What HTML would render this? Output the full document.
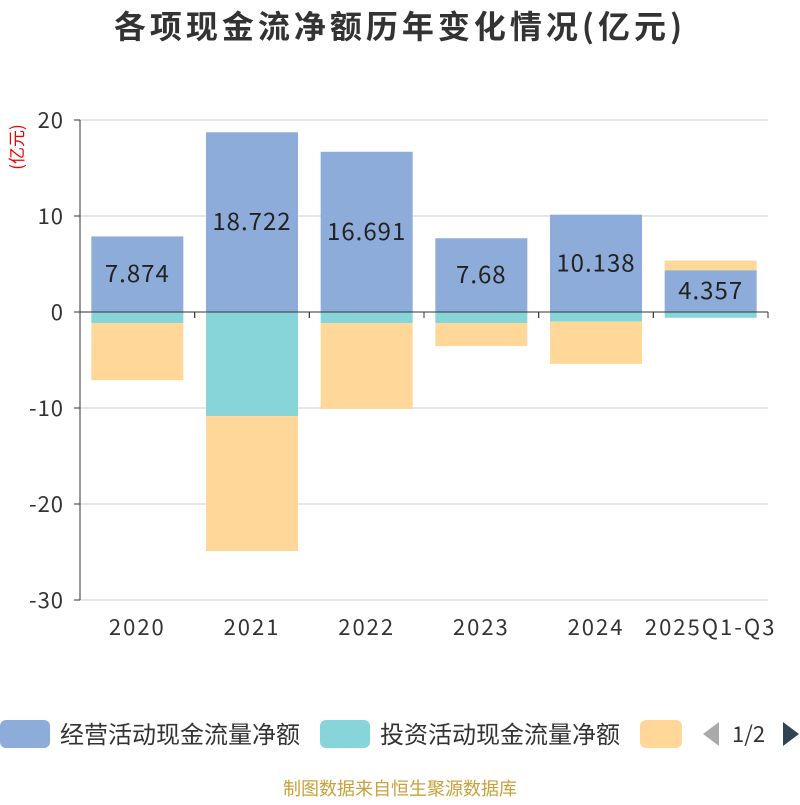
<!DOCTYPE html>
<html><head><meta charset="utf-8"><style>
body{margin:0;background:#fff;font-family:"Noto Sans CJK SC",sans-serif;}
</style></head><body>
<svg id="c" width="800" height="800" xmlns="http://www.w3.org/2000/svg">
<text x="400" y="38" text-anchor="middle" font-size="32" font-weight="bold" letter-spacing="4" fill="#333" font-family="Noto Sans CJK SC,sans-serif">各项现金流净额历年变化情况(亿元)</text>
<text transform="translate(23,147) rotate(-90)" text-anchor="middle" font-size="17" fill="#e00" font-family="Noto Sans CJK SC,sans-serif">(亿元)</text>
<g id="grid"></g><g id="bars"></g><g id="axes"></g>
<g font-family="Noto Sans CJK SC,sans-serif" font-size="24" fill="#333">
<rect x="0" y="720" width="50" height="28" rx="6" fill="#8eacd9"/>
<text x="60" y="743">经营活动现金流量净额</text>
<rect x="320" y="720" width="50" height="28" rx="6" fill="#87d5d9"/>
<text x="380" y="743">投资活动现金流量净额</text>
<rect x="640" y="720" width="42" height="28" rx="6" fill="#ffd899"/>
<path d="M703 734 L719 722 L719 746 Z" fill="#aaa"/>
<text x="732" y="742" font-size="22">1/2</text>
<path d="M783 722 L799 734 L783 746 Z" fill="#2f4554"/>
</g>
<text x="400" y="795" text-anchor="middle" font-size="18" fill="#c8a03c" font-family="Noto Sans CJK SC,sans-serif">制图数据来自恒生聚源数据库</text>
</svg>
<script>
const categories=["2020","2021","2022","2023","2024","2025Q1-Q3"];
const operating=[7.874,18.722,16.691,7.68,10.138,4.357];
const investing=[-1.15,-10.85,-1.15,-1.15,-1.0,-0.6];
const financing=[-5.95,-14.05,-8.95,-2.4,-4.4,1.0];
const yTicks=[20,10,0,-10,-20,-30];
const NS="http://www.w3.org/2000/svg";
const FF='Noto Sans CJK SC,sans-serif';
const L=80,R=768,T=120,B=600,ymax=20,ymin=-30;
const y=v=>T+(ymax-v)/(ymax-ymin)*(B-T);
const bw=(R-L)/categories.length;
const x=i=>L+bw*i;
function mk(p,tag,a){const e=document.createElementNS(NS,tag);for(const k in a)e.setAttribute(k,a[k]);p.appendChild(e);return e;}
const g=document.getElementById('grid'),bars=document.getElementById('bars'),ax=document.getElementById('axes');
yTicks.forEach(t=>{
 const l=mk(g,'line',{x1:L,x2:R,y1:y(t),y2:y(t),stroke:'#ccc','stroke-width':1});
 
 
 const tk=mk(ax,'line',{x1:L-6,x2:L,y1:y(t),y2:y(t),stroke:'#333'});
 
 
 const tx=mk(ax,'text',{x:L-16,y:y(t)+8,'text-anchor':'end','font-size':22,'letter-spacing':1,fill:'#333','font-family':FF});
 tx.textContent=t;
 
 
});
const ya=mk(ax,'line',{x1:L,x2:L,y1:T,y2:B,stroke:'#333'});


const xa=mk(ax,'line',{x1:L,x2:R,y1:y(0),y2:y(0),stroke:'#333'});


categories.forEach((c,i)=>{
 for(let k=0;k<=1;k++){const t=mk(ax,'line',{x1:x(i+k),x2:x(i+k),y1:y(0),y2:y(0)+6,stroke:'#333'});
 
 }
 const tx=mk(ax,'text',{x:x(i)+bw/2,y:635,'text-anchor':'middle','font-size':22,'letter-spacing':2,fill:'#333','font-family':FF});
 tx.textContent=c;
 
 
 const bx=x(i)+bw/2-46;
 let pos=0,neg=0;
 const stack=(v,col,name)=>{let y0,y1;if(v>=0){y0=pos;y1=pos+v;pos=y1;}else{y0=neg;y1=neg+v;neg=y1;}
  const r=mk(bars,'rect',{x:bx,width:92,y:Math.min(y(y0),y(y1)),height:Math.abs(y(y0)-y(y1)),fill:col});
  
  };
 stack(operating[i],'#8eacd9','bar-operating-'+c);
 stack(investing[i],'#87d5d9','bar-investing-'+c);
 stack(financing[i],'#ffd899','bar-financing-'+c);
 const lb=mk(bars,'text',{x:bx+46,y:(y(0)+y(operating[i]))/2+8,'text-anchor':'middle','font-size':24,'letter-spacing':1,fill:'#222','font-family':FF});
 lb.textContent=operating[i];
 
 
});
</script>
</body></html>
